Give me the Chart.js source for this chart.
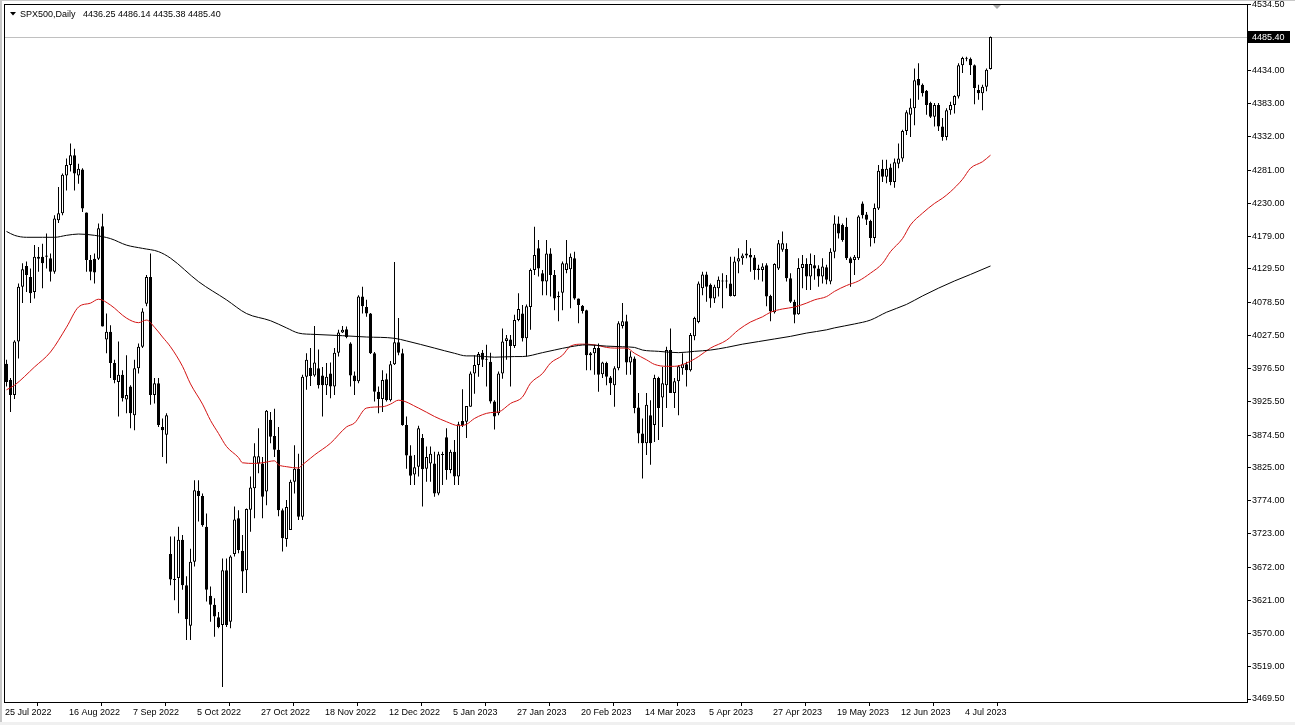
<!DOCTYPE html>
<html>
<head>
<meta charset="utf-8">
<script src="https://cdn.jsdelivr.net/npm/chart.js@4.4.1/dist/chart.umd.min.js"></script>
<style>
  html, body { margin: 0; padding: 0; background: #fff; }
  #chart { display: block; }
</style>
</head>
<body>
<canvas id="chart" width="1295" height="725"></canvas>
<script>
// SPX500 daily, one bar per trading day from 25 Jul 2022 (index 0) to 12 Jul 2023
const TITLE = 'SPX500,Daily';

const OPEN = [
  3984, 3959, 3936, 4018, 4102, 4134, 4117, 4094, 4148, 4148,
  4148, 4146, 4125, 4204, 4215, 4273, 4289, 4304, 4273, 4282,
  4216, 4143, 4145, 4145, 4195, 4021, 4033, 3985, 3956, 3967,
  3929, 3949, 3905, 3977, 4010, 4076, 4117, 3936, 3954, 3887,
  3875, 3692, 3654, 3655, 3714, 3644, 3582, 3680, 3789, 3781,
  3734, 3628, 3614, 3595, 3583, 3667, 3588, 3692, 3747, 3697,
  3667, 3760, 3793, 3831, 3831, 3788, 3898, 3873, 3852, 3759,
  3715, 3729, 3803, 3823, 3749, 3964, 3978, 3966, 3977, 3966,
  3951, 3969, 3949, 4001, 4032, 4037, 4015, 3966, 3957, 4087,
  4071, 4061, 4000, 3941, 3930, 3960, 3928, 3983, 4017, 4000,
  3890, 3843, 3814, 3826, 3870, 3823, 3831, 3831, 3785, 3845,
  3871, 3821, 3849, 3811, 3896, 3895, 3918, 3969, 3982, 4001,
  3990, 3987, 3926, 3908, 3969, 4019, 4021, 4011, 4051, 4061,
  4023, 4071, 4128, 4161, 4123, 4110, 4153, 4120, 4088, 4093,
  4128, 4129, 4146, 4084, 4073, 4066, 4000, 4000, 4008, 3968,
  3985, 3963, 3951, 3977, 4042, 4049, 3986, 3992, 3917, 3877,
  3862, 3905, 3890, 3962, 3932, 3951, 4005, 3939, 3957, 3977,
  3983, 3974, 4026, 4048, 4100, 4121, 4105, 4084, 4100, 4110,
  4110, 4107, 4088, 4141, 4146, 4150, 4151, 4147, 4128, 4128,
  4135, 4088, 4063, 4130, 4159, 4160, 4115, 4079, 4060, 4131,
  4137, 4118, 4135, 4130, 4118, 4132, 4110, 4156, 4199, 4197,
  4194, 4146, 4143, 4146, 4230, 4213, 4203, 4177, 4222, 4283,
  4271, 4285, 4263, 4291, 4299, 4341, 4366, 4376, 4421, 4412,
  4403, 4384, 4363, 4381, 4348, 4332, 4373, 4381, 4394, 4442,
  4452, 4452, 4442, 4404, 4399, 4409, 4436.25
];
const HIGH = [
  3990, 3962, 4020, 4107, 4138, 4141, 4130, 4166, 4163, 4168,
  4184, 4153, 4212, 4255, 4276, 4299, 4322, 4314, 4291, 4284,
  4216, 4151, 4153, 4199, 4214, 4061, 4043, 3990, 4018, 3974,
  3997, 3951, 3990, 4015, 4069, 4120, 4153, 3962, 3962, 3900,
  3908, 3719, 3719, 3734, 3721, 3658, 3700, 3805, 3805, 3785,
  3754, 3642, 3624, 3603, 3685, 3685, 3690, 3765, 3759, 3721,
  3762, 3811, 3862, 3885, 3841, 3913, 3910, 3915, 3887, 3762,
  3775, 3806, 3859, 3846, 3967, 4000, 4008, 4042, 4006, 3979,
  3985, 3986, 4008, 4036, 4042, 4041, 4017, 3972, 4089, 4102,
  4082, 4062, 4002, 3949, 3974, 3969, 3988, 4140, 4054, 4007,
  3903, 3859, 3844, 3889, 3876, 3857, 3857, 3849, 3849, 3849,
  3885, 3852, 3867, 3895, 3945, 3919, 3972, 3997, 4002, 4005,
  4013, 4001, 3928, 3972, 4038, 4028, 4028, 4059, 4092, 4074,
  4075, 4130, 4194, 4174, 4128, 4174, 4161, 4128, 4095, 4141,
  4174, 4153, 4156, 4084, 4074, 4067, 4002, 4013, 4015, 3987,
  3987, 3965, 3980, 4049, 4077, 4059, 4003, 3995, 3939, 3900,
  3939, 3928, 3967, 3964, 3979, 4010, 4038, 3962, 3982, 4000,
  3987, 4031, 4056, 4110, 4125, 4125, 4107, 4105, 4118, 4123,
  4120, 4148, 4148, 4161, 4153, 4174, 4161, 4151, 4136, 4138,
  4138, 4090, 4138, 4174, 4187, 4169, 4123, 4082, 4146, 4151,
  4146, 4153, 4151, 4135, 4146, 4136, 4161, 4212, 4210, 4199,
  4208, 4148, 4151, 4212, 4233, 4217, 4205, 4230, 4289, 4297,
  4297, 4291, 4299, 4322, 4343, 4373, 4391, 4437, 4445, 4414,
  4404, 4386, 4384, 4384, 4361, 4376, 4386, 4396, 4445, 4455,
  4455, 4454, 4443, 4412, 4412, 4437, 4486.14
];
const LOW = [
  3949, 3910, 3930, 3992, 4077, 4094, 4077, 4084, 4125, 4100,
  4130, 4110, 4122, 4200, 4212, 4250, 4279, 4250, 4260, 4217,
  4125, 4112, 4107, 4143, 4041, 4000, 3962, 3954, 3903, 3926,
  3908, 3885, 3882, 3969, 4008, 4072, 3921, 3923, 3887, 3841,
  3831, 3644, 3621, 3601, 3637, 3560, 3560, 3673, 3742, 3734,
  3619, 3588, 3565, 3578, 3488, 3580, 3578, 3688, 3693, 3632,
  3632, 3726, 3747, 3816, 3747, 3767, 3862, 3841, 3750, 3696,
  3703, 3729, 3785, 3744, 3744, 3944, 3950, 3964, 3946, 3903,
  3936, 3931, 3936, 3995, 4031, 4023, 3949, 3936, 3954, 4061,
  4056, 3999, 3926, 3908, 3910, 3926, 3926, 3982, 3997, 3889,
  3823, 3798, 3798, 3811, 3765, 3803, 3803, 3780, 3782, 3798,
  3806, 3816, 3798, 3798, 3887, 3870, 3918, 3938, 3964, 3979,
  3949, 3923, 3883, 3905, 3961, 3990, 3949, 4008, 4049, 4018,
  3995, 4036, 4120, 4118, 4089, 4089, 4087, 4066, 4049, 4066,
  4123, 4069, 4082, 4046, 4061, 3974, 3974, 3967, 3941, 3962,
  3951, 3936, 3918, 3974, 4038, 3967, 3967, 3908, 3862, 3808,
  3844, 3829, 3864, 3867, 3887, 3916, 3939, 3916, 3905, 3967,
  3949, 3972, 4020, 4046, 4089, 4079, 4070, 4077, 4087, 4069,
  4100, 4087, 4087, 4123, 4136, 4146, 4125, 4113, 4113, 4110,
  4072, 4049, 4061, 4128, 4156, 4110, 4077, 4046, 4059, 4100,
  4097, 4097, 4113, 4102, 4107, 4106, 4106, 4146, 4176, 4171,
  4143, 4102, 4120, 4143, 4207, 4197, 4164, 4169, 4220, 4263,
  4261, 4258, 4254, 4284, 4294, 4335, 4332, 4350, 4389, 4394,
  4366, 4361, 4348, 4341, 4326, 4327, 4366, 4368, 4391, 4430,
  4448, 4427, 4382, 4389, 4373, 4402, 4435.38
];
const CLOSE = [
  3956, 3936, 4018, 4102, 4129, 4120, 4092, 4148, 4145, 4138,
  4150, 4125, 4207, 4215, 4274, 4289, 4304, 4276, 4283, 4222,
  4143, 4125, 4124, 4192, 4041, 4033, 3985, 3959, 3967, 3931,
  3936, 3908, 3977, 4010, 4064, 4117, 3936, 3954, 3890, 3882,
  3905, 3653, 3652, 3714, 3644, 3592, 3680, 3790, 3781, 3736,
  3637, 3614, 3596, 3580, 3667, 3583, 3688, 3745, 3698, 3665,
  3761, 3794, 3842, 3842, 3780, 3912, 3872, 3852, 3759, 3716,
  3764, 3803, 3823, 3749, 3964, 3990, 3965, 3986, 3951, 3951,
  3964, 3949, 4001, 4032, 4036, 4025, 3966, 3957, 4087, 4072,
  4061, 4000, 3941, 3930, 3959, 3928, 3983, 4017, 4001, 3890,
  3843, 3812, 3825, 3885, 3822, 3841, 3846, 3785, 3845, 3844,
  3821, 3849, 3811, 3891, 3890, 3919, 3969, 3982, 3999, 3990,
  3991, 3926, 3903, 3969, 4018, 4023, 4011, 4051, 4068, 4023,
  4072, 4128, 4151, 4130, 4110, 4153, 4120, 4084, 4086, 4138,
  4138, 4148, 4084, 4074, 4065, 3997, 3997, 4008, 3967, 3986,
  3964, 3954, 3977, 4046, 4049, 3986, 3995, 3916, 3877, 3862,
  3921, 3862, 3962, 3916, 3954, 4005, 3939, 3957, 3980, 3983,
  3974, 4028, 4054, 4107, 4121, 4102, 4084, 4102, 4113, 4111,
  4110, 4088, 4141, 4146, 4150, 4153, 4147, 4128, 4130, 4133,
  4087, 4064, 4137, 4169, 4169, 4115, 4079, 4059, 4131, 4137,
  4118, 4137, 4130, 4118, 4133, 4113, 4156, 4199, 4184, 4174,
  4146, 4138, 4148, 4210, 4212, 4205, 4177, 4223, 4280, 4271,
  4283, 4263, 4293, 4299, 4341, 4370, 4377, 4419, 4411, 4399,
  4381, 4363, 4381, 4348, 4332, 4373, 4381, 4395, 4442, 4453,
  4452, 4442, 4407, 4399, 4409, 4435, 4485.40
];

// moving averages: bar index -> value
const FAST_MA_AT = [0, 2, 7, 11, 15, 18, 21, 23, 26, 30, 33, 35, 37, 39, 41, 44, 46, 49, 51, 53,
  55, 58, 59, 62, 64, 67, 68, 70, 73, 74, 76, 77, 81, 85, 87, 90, 94, 96, 98, 103,
  107, 110, 113, 115, 117, 121, 123, 126, 129, 131, 134, 136, 139, 141, 144, 147, 150, 152, 155, 157,
  160, 162, 165, 167, 170, 173, 176, 180, 183, 186, 189, 191, 194, 197, 200, 202, 205, 207, 210, 213,
  216, 219, 221, 224, 226, 229, 232, 234, 236, 239, 241, 244, 246];
const FAST_MA = [3944, 3951, 3979, 4002, 4040, 4071, 4077, 4083, 4074, 4054, 4047, 4051, 4040, 4025, 4010, 3980, 3953, 3922, 3897, 3877,
  3857, 3840, 3832, 3831, 3832, 3835, 3829, 3826, 3824, 3829, 3839, 3844, 3862, 3887, 3893, 3916, 3918, 3922, 3928, 3916,
  3903, 3895, 3889, 3891, 3900, 3909, 3910, 3923, 3933, 3954, 3969, 3985, 3997, 4011, 4014, 4013, 4009, 4008, 4008, 4000,
  3990, 3983, 3980, 3980, 3985, 3995, 4008, 4020, 4036, 4048, 4056, 4063, 4068, 4071, 4077, 4082, 4087, 4095, 4104, 4111,
  4123, 4138, 4156, 4176, 4197, 4215, 4230, 4238, 4248, 4267, 4284, 4294, 4304];
const SLOW_MA_AT = [0, 2, 5, 9, 12, 15, 18, 22, 26, 30, 34, 38, 41, 48, 55, 60, 66, 70, 73, 77,
  84, 90, 97, 100, 107, 112, 115, 117, 122, 127, 129, 134, 137, 141, 145, 150, 154, 157, 159, 163,
  168, 172, 176, 180, 184, 188, 192, 196, 200, 205, 207, 212, 216, 220, 225, 229, 233, 237, 241, 246];
const SLOW_MA = [4187, 4181, 4178, 4178, 4178, 4181, 4183, 4181, 4176, 4166, 4161, 4156, 4146, 4110, 4082, 4061, 4050, 4039, 4031, 4029,
  4027, 4025, 4023, 4019, 4008, 4000, 3996, 3996, 3994, 3995, 3995, 4001, 4005, 4010, 4013, 4011, 4010, 4009, 4005, 4003,
  4001, 4003, 4005, 4009, 4014, 4018, 4022, 4026, 4031, 4036, 4039, 4045, 4051, 4063, 4075, 4088, 4100, 4111, 4121, 4134];

const DATE_LABELS = ['25 Jul 2022', '16 Aug 2022', '7 Sep 2022', '5 Oct 2022', '27 Oct 2022', '18 Nov 2022',
  '12 Dec 2022', '5 Jan 2023', '27 Jan 2023', '20 Feb 2023', '14 Mar 2023', '5 Apr 2023',
  '27 Apr 2023', '19 May 2023', '12 Jun 2023', '4 Jul 2023'];
const DATE_STEP = 16;
const PRICE_TICKS = [4534.5, 4434, 4383, 4332, 4281, 4230, 4179, 4129.5, 4078.5, 4027.5, 3976.5,
  3925.5, 3874.5, 3825, 3774, 3723, 3672, 3621, 3570, 3519, 3469.5];

const FONT = "'Liberation Sans', Arial, sans-serif";
Chart.defaults.font.family = FONT;
Chart.defaults.font.size = 9;
Chart.defaults.color = '#000';

const last = CLOSE.length - 1;
const bodies = OPEN.map((o, i) => ({ x: i, y: [o, CLOSE[i]] }));
const wicks = LOW.map((l, i) => ({ x: i, y: [l, HIGH[i]] }));
const bodyFill = OPEN.map((o, i) => (CLOSE[i] >= o ? '#ffffff' : '#000000'));

// extra drawing the way the terminal shows it: frame, header, bid line and its label
const terminal = {
  id: 'terminal',
  beforeDraw(chart) {
    const ctx = chart.ctx;
    ctx.save();
    ctx.fillStyle = '#fff';
    ctx.fillRect(0, 0, chart.width, chart.height);
    ctx.fillStyle = '#c8c8c8';
    ctx.fillRect(0, 0, 2, chart.height);
    ctx.fillRect(0, 0, chart.width, 1);
    ctx.fillStyle = '#f0f0f0';
    ctx.fillRect(0, 722, chart.width, 3);
    ctx.restore();
  },
  beforeDatasetsDraw(chart) {
    const { ctx, chartArea } = chart;
    const y = Math.round(chart.scales.y.getPixelForValue(CLOSE[last])) + 0.5;
    ctx.save();
    ctx.strokeStyle = '#c0c0c0';
    ctx.lineWidth = 1;
    ctx.beginPath();
    ctx.moveTo(chartArea.left, y);
    ctx.lineTo(chartArea.right, y);
    ctx.stroke();
    ctx.restore();
  },
  afterDraw(chart) {
    const { ctx, chartArea } = chart;
    ctx.save();
    // frame
    ctx.strokeStyle = '#000';
    ctx.lineWidth = 1;
    ctx.strokeRect(chartArea.left + 0.5, chartArea.top + 0.5,
      chartArea.right - chartArea.left - 1, chartArea.bottom - chartArea.top);
    // header
    ctx.fillStyle = '#000';
    ctx.beginPath();
    ctx.moveTo(10, 12); ctx.lineTo(16, 12); ctx.lineTo(13, 15.5); ctx.closePath();
    ctx.fill();
    ctx.font = '9px ' + FONT;
    ctx.textBaseline = 'alphabetic';
    ctx.textAlign = 'left';
    ctx.fillText(TITLE, 20, 17);
    ctx.fillText([OPEN[last], HIGH[last], LOW[last], CLOSE[last]].map(v => v.toFixed(2)).join(' '), 83, 17);
    // chart shift marker
    ctx.fillStyle = '#a8a8a8';
    ctx.beginPath();
    ctx.moveTo(993, 5); ctx.lineTo(1001, 5); ctx.lineTo(997, 9); ctx.closePath();
    ctx.fill();
    // bid label
    const y = Math.round(chart.scales.y.getPixelForValue(CLOSE[last]));
    ctx.fillStyle = '#000';
    ctx.fillRect(chartArea.right, y - 6, 42, 12);
    ctx.fillStyle = '#fff';
    ctx.textBaseline = 'middle';
    ctx.fillText(CLOSE[last].toFixed(2), chartArea.right + 4, y + 0.5);
    ctx.restore();
  }
};

new Chart(document.getElementById('chart'), {
  type: 'bar',
  data: {
    datasets: [
      {
        type: 'line', label: 'slow MA', data: SLOW_MA_AT.map((x, k) => ({ x, y: SLOW_MA[k] })),
        borderColor: '#000', borderWidth: 1, pointRadius: 0, cubicInterpolationMode: 'monotone', order: 0
      },
      {
        type: 'line', label: 'fast MA', data: FAST_MA_AT.map((x, k) => ({ x, y: FAST_MA[k] })),
        borderColor: '#d41414', borderWidth: 1, pointRadius: 0, cubicInterpolationMode: 'monotone', order: 0
      },
      {
        label: 'body', data: bodies, backgroundColor: bodyFill, borderColor: '#000', borderWidth: 1,
        borderSkipped: false, barThickness: 3, maxBarThickness: 3, grouped: false, minBarLength: 1,
        inflateAmount: 0, order: 1
      },
      {
        label: 'wick', data: wicks, backgroundColor: '#000', borderWidth: 0,
        barThickness: 1, maxBarThickness: 1, grouped: false, inflateAmount: 0, order: 2
      }
    ]
  },
  options: {
    responsive: false,
    animation: false,
    events: [],
    layout: { padding: { left: 4, top: 4, right: 0, bottom: 0 } },
    plugins: { legend: { display: false }, tooltip: { enabled: false } },
    scales: {
      x: {
        type: 'linear',
        min: -0.625,
        max: 310.375,
        offset: false,
        afterBuildTicks: s => { s.ticks = DATE_LABELS.map((_, k) => ({ value: k * DATE_STEP - 0.375 })); },
        afterFit: s => { s.height = 23; s.paddingLeft = 0; s.paddingRight = 0; },
        border: { display: false },
        grid: { drawOnChartArea: false, drawTicks: true, tickLength: 4, color: '#000' },
        ticks: {
          autoSkip: false, maxRotation: 0, minRotation: 0, align: 'start', padding: 1,
          callback: (v, k) => DATE_LABELS[k]
        }
      },
      y: {
        position: 'right',
        min: 3464.9,
        max: 4536.0,
        afterBuildTicks: s => { s.ticks = PRICE_TICKS.map(v => ({ value: v })); },
        afterFit: s => { s.width = 47; s.paddingTop = 0; s.paddingBottom = 0; },
        border: { display: false },
        grid: { drawOnChartArea: false, drawTicks: true, tickLength: 3, color: '#000' },
        ticks: { autoSkip: false, padding: 1, callback: v => Number(v).toFixed(2) }
      }
    }
  },
  plugins: [terminal]
});
</script>
</body>
</html>
